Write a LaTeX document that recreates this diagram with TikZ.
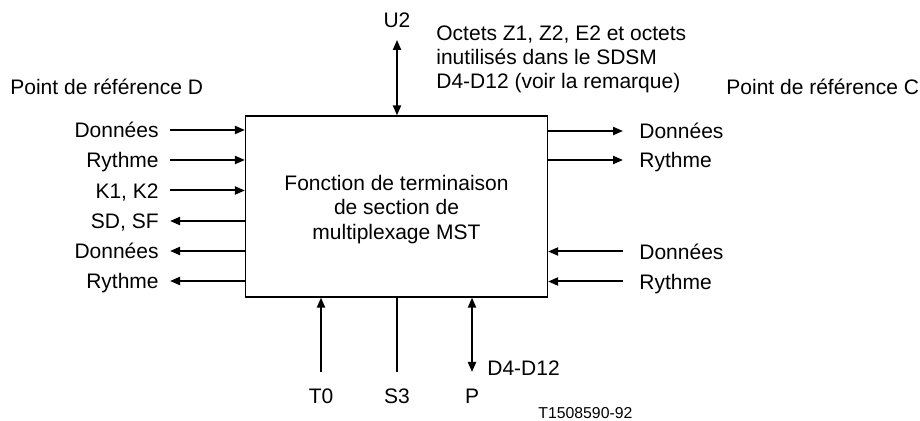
\documentclass[tikz,border=0pt]{standalone}
\usepackage{fontspec}
\setmainfont{Liberation Sans}
\usetikzlibrary{arrows.meta,positioning}

\begin{document}
\begin{tikzpicture}[x=0.5pt,y=-0.5pt,>={Triangle[length=5pt,width=4pt]},
  font=\fontsize{10.5}{12.2}\selectfont,
  lab/.style={inner sep=0pt,text height=7.6pt,text depth=0pt},
  leftlab/.style={lab,anchor=east,inner xsep=5.5pt},
  rightlab/.style={lab,anchor=west,inner xsep=8pt},
  botlab/.style={lab,inner ysep=8pt},
  sig/.style={line width=1pt}]
\useasboundingbox (0,0) rectangle (920,421);
\node[draw,line width=0.6pt,minimum width=151pt,minimum height=90.5pt,align=center] (mst) at (396.5,206.5) {\rule{0pt}{10.4pt}Fonction de terminaison\\de section de\\multiplexage MST};
% point de reference D
\node[lab,anchor=west] (refd) at (10,87) {Point de référence D};
\node[leftlab] (dd1) at (170,130) {Données};
\node[leftlab] (dr1) at (170,160) {Rythme};
\node[leftlab] (dk) at (170,190.5) {K1, K2};
\node[leftlab] (ds) at (170,221) {SD, SF};
\node[leftlab] (dd2) at (170,251) {Données};
\node[leftlab] (dr2) at (170,281) {Rythme};
\draw[sig,->] (dd1) -- (dd1 -| mst.west);
\draw[sig,->] (dr1) -- (dr1 -| mst.west);
\draw[sig,->] (dk) -- (dk -| mst.west);
\draw[sig,<-] (ds) -- (ds -| mst.west);
\draw[sig,<-] (dd2) -- (dd2 -| mst.west);
\draw[sig,<-] (dr2) -- (dr2 -| mst.west);
% point de reference C
\node[lab,anchor=west] (refc) at (726,87) {Point de référence C};
\node[rightlab] (cd1) at (623,131) {Données};
\node[rightlab] (cr1) at (623,160) {Rythme};
\node[rightlab] (cd2) at (623,251.5) {Données};
\node[rightlab] (cr2) at (623,281.5) {Rythme};
\draw[sig,->] (cd1 -| mst.east) -- (cd1);
\draw[sig,->] (cr1 -| mst.east) -- (cr1);
\draw[sig,<-] (cd2 -| mst.east) -- (cd2);
\draw[sig,<-] (cr2 -| mst.east) -- (cr2);
% haut
\node[lab,inner ysep=6.2pt] (u2) at (397,19.5) {U2};
\node[inner sep=0pt,anchor=north west,align=left] (octets) at (436,25) {Octets Z1, Z2, E2 et octets\\inutilisés dans le SDSM\\D4-D12 (voir la remarque)};
\draw[sig,<->] (u2) -- (u2 |- mst.north);
% bas
\node[botlab] (t0) at (321,396) {T0};
\node[botlab] (s3) at (397,396) {S3};
\node[botlab] (p) at (472,396) {P};
\draw[sig,->] (t0) -- (t0 |- mst.south);
\draw[sig] (s3) -- (s3 |- mst.south);
\draw[sig,<->] (p) -- (p |- mst.south);
\node[lab,anchor=west] (pd) at (487,368) {D4-D12};
\node[inner sep=0pt,anchor=west,font=\fontsize{7.9}{9}\selectfont] (ref) at (538,413) {T1508590-92};
\end{tikzpicture}
\end{document}
